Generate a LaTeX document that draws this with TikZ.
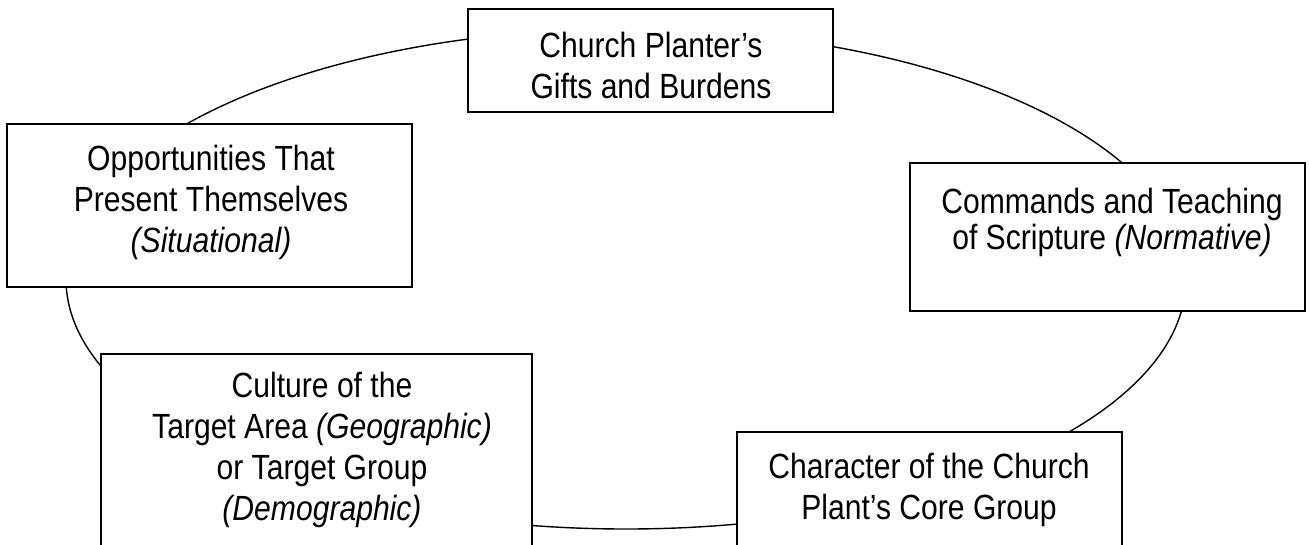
\documentclass[tikz,border=0pt]{standalone}
\usepackage{fontspec}
\setmainfont{Liberation Sans}[FakeStretch=0.86]
\begin{document}
\begin{tikzpicture}[x=1pt,y=-1pt,
  box/.style={draw=black, line width=1.8pt, fill=white, rectangle, inner sep=0pt, outer sep=0pt},
  txt/.style={anchor=north, align=center, inner sep=0pt, font=\fontsize{35}{41}\selectfont},
  ring/.style={draw=black, line width=1.4pt}]
\useasboundingbox (0,0) rectangle (1309,544);
\clip (0,0) rectangle (1309,544);
% cycle ring behind the boxes
\draw[ring] (626,279) ellipse [x radius=560, y radius=250];
% boxes
\node[box, minimum width=365pt, minimum height=103pt] (b1) at (650.5,60.5) {};
\node[box, minimum width=405pt, minimum height=163pt] (b2) at (209.5,205.5) {};
\node[box, minimum width=395pt, minimum height=148pt] (b3) at (1107.5,237) {};
\node[box, minimum width=431pt, minimum height=220pt] (b4) at (316.5,464) {};
\node[box, minimum width=385pt, minimum height=140pt] (b5) at (929.5,502) {};
% texts
\node[txt] (t1) at (651,32) {Church Planter’s\\Gifts and Burdens};
\node[txt] (t2) at (211,145) {Opportunities That\\Present Themselves\\\textit{(Situational)}};
\node[txt, font=\fontsize{35}{36}\selectfont] (t3) at (1112,188) {Commands and Teaching\\of Scripture \textit{(Normative)}};
\node[txt] (t4) at (322,372) {Culture of the\\Target Area \textit{(Geographic)}\\or Target Group\\\textit{(Demographic)}};
\node[txt] (t5) at (929,453) {Character of the Church\\Plant’s Core Group};
\end{tikzpicture}
\end{document}
